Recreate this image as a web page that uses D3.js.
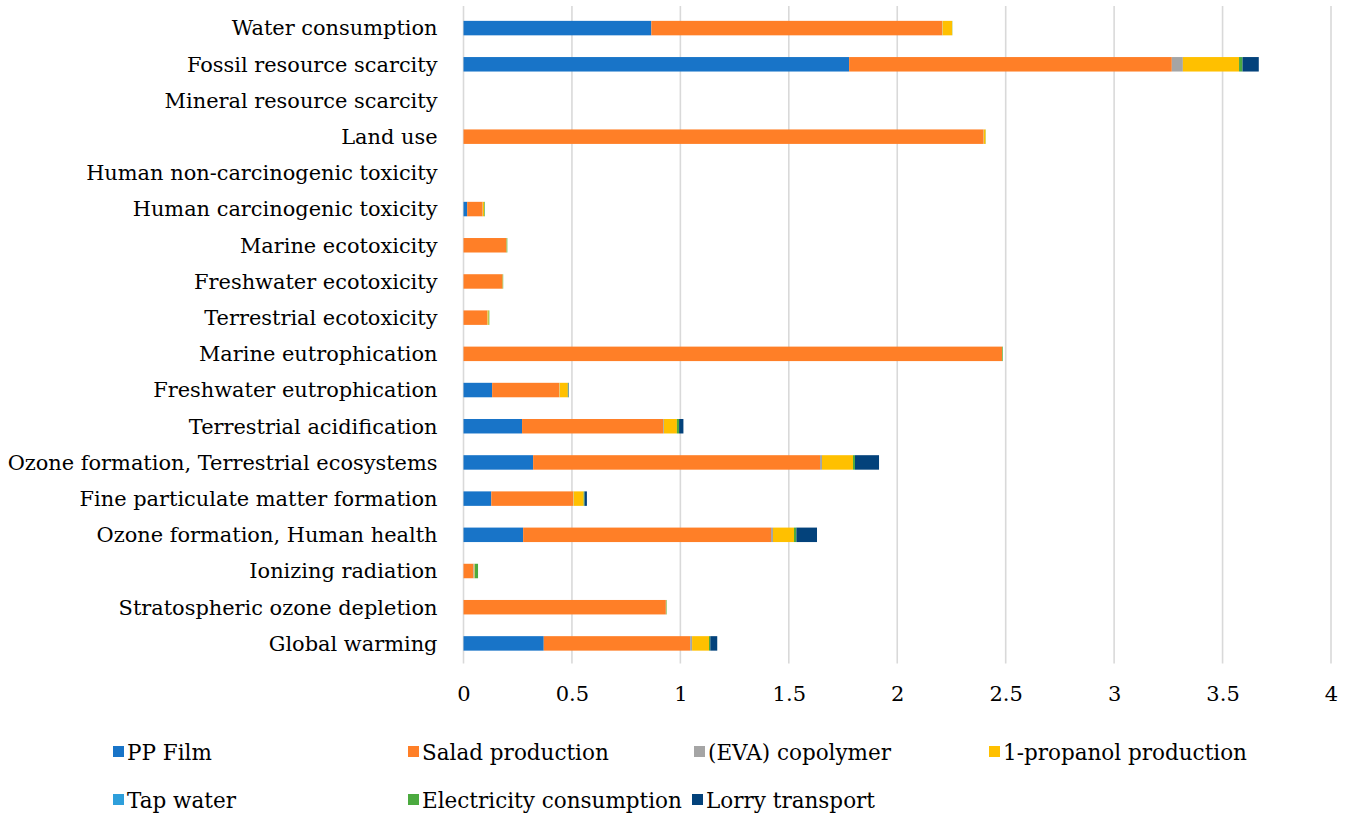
<!DOCTYPE html>
<html>
<head>
<meta charset="utf-8">
<script src="https://cdn.jsdelivr.net/npm/d3@7/dist/d3.min.js"></script>
<style>
  html, body { margin: 0; padding: 0; background: #ffffff; }
  svg { display: block; }
  text { font-family: "DejaVu Serif", serif; fill: #000; }
</style>
</head>
<body>
<svg id="chart" width="1352" height="814"></svg>
<script>
// ---- data (top row first) ----
const categories = [
  "Water consumption",
  "Fossil resource scarcity",
  "Mineral resource scarcity",
  "Land use",
  "Human non-carcinogenic toxicity",
  "Human carcinogenic toxicity",
  "Marine ecotoxicity",
  "Freshwater ecotoxicity",
  "Terrestrial ecotoxicity",
  "Marine eutrophication",
  "Freshwater eutrophication",
  "Terrestrial acidification",
  "Ozone formation, Terrestrial ecosystems",
  "Fine particulate matter formation",
  "Ozone formation, Human health",
  "Ionizing radiation",
  "Stratospheric ozone depletion",
  "Global warming"
];
const seriesNames = ["PP Film", "Salad production", "(EVA) copolymer", "1-propanol production",
                     "Tap water", "Electricity consumption", "Lorry transport"];
const ppFilm      = [0.866, 1.778, 0, 0,     0, 0.017, 0,     0,     0,     0,     0.132, 0.270, 0.321, 0.128, 0.275, 0,     0,     0.370];
const salad       = [1.341, 1.488, 0, 2.398, 0, 0.071, 0.198, 0.180, 0.110, 2.483, 0.309, 0.650, 1.323, 0.378, 1.143, 0.046, 0.933, 0.675];
const eva         = [0.002, 0.051, 0, 0.001, 0, 0.001, 0,     0,     0.001, 0,     0.002, 0.004, 0.009, 0.002, 0.009, 0.004, 0.001, 0.009];
const propanol    = [0.044, 0.259, 0, 0.008, 0, 0.006, 0.001, 0.001, 0.005, 0.001, 0.038, 0.060, 0.143, 0.046, 0.097, 0.002, 0.001, 0.078];
const tapWater    = [0,     0,     0, 0,     0, 0,     0,     0,     0,     0,     0,     0,     0,     0,     0,     0,     0,     0];
const electricity = [0.001, 0.016, 0, 0.001, 0, 0.003, 0.003, 0.002, 0.003, 0.003, 0.002, 0.010, 0.009, 0.004, 0.011, 0.015, 0.002, 0.006];
const lorry       = [0,     0.075, 0, 0,     0, 0,     0,     0,     0,     0,     0.002, 0.020, 0.111, 0.011, 0.095, 0,     0,     0.032];
const xTicks = [0, 0.5, 1, 1.5, 2, 2.5, 3, 3.5, 4];
const colors = ["#1874C8", "#FF7F27", "#A5A5A5", "#FFC000", "#2E9FDB", "#4BAA3F", "#03427B"];

const seriesValues = [ppFilm, salad, eva, propanol, tapWater, electricity, lorry];
const table = categories.map((c, i) => {
  const row = { category: c };
  seriesNames.forEach((s, j) => row[s] = seriesValues[j][i]);
  return row;
});

// ---- layout ----
const svg = d3.select("#chart");
const plot = { left: 463.5, right: 1331, top: 10, bottom: 661.5 };

const x = d3.scaleLinear().domain([0, 4]).range([plot.left, plot.right]);
const y = d3.scaleBand().domain(categories).range([plot.top, plot.bottom])
  .paddingInner(0.6).paddingOuter(0.3);

// gridlines
svg.append("g").selectAll("line").data(xTicks).join("line")
  .attr("x1", d => x(d)).attr("x2", d => x(d))
  .attr("y1", plot.top - 4).attr("y2", plot.bottom + 2)
  .attr("stroke", "#d9d9d9").attr("stroke-width", 1.6);

// stacked bars
const stack = d3.stack().keys(seriesNames);
const layers = stack(table);
svg.append("g").selectAll("g").data(layers).join("g")
  .attr("fill", (d, i) => colors[i])
  .selectAll("rect").data(d => d).join("rect")
  .attr("x", d => x(d[0]))
  .attr("width", d => Math.max(0, x(d[1]) - x(d[0])))
  .attr("y", d => y(d.data.category))
  .attr("height", y.bandwidth());

// y labels
const yAxis = d3.axisLeft(y).tickSize(0).tickPadding(26);
const gy = svg.append("g").attr("transform", `translate(${plot.left},0)`).call(yAxis);
gy.select(".domain").remove();
gy.selectAll("text").style("font-family", "DejaVu Serif, serif").style("font-size", "20.9px")
  .attr("fill", "#000").attr("dy", "0.35em");

// x labels
const xAxis = d3.axisBottom(x).tickValues(xTicks).tickSize(0).tickPadding(25)
  .tickFormat(d => String(d));
const gx = svg.append("g").attr("transform", `translate(0,${plot.bottom})`).call(xAxis);
gx.select(".domain").remove();
gx.selectAll("text").style("font-family", "DejaVu Serif, serif").style("font-size", "21px").attr("fill", "#000");

// legend
const legendCols = [[113, 408, 694, 989], [113, 408, 692]];
const legendRows = [752, 800];
const leg = svg.append("g").selectAll("g").data(seriesNames).join("g")
  .attr("transform", (d, i) => {
    const r = Math.floor(i / 4);
    return `translate(${legendCols[r][i % 4]},${legendRows[r]})`;
  });
leg.append("rect").attr("x", 0).attr("y", -6).attr("width", 11).attr("height", 11)
  .attr("fill", (d, i) => colors[i]);
leg.append("text").attr("x", 14).attr("y", 7.5).style("font-size", "21.5px").text(d => d);
</script>
</body>
</html>
